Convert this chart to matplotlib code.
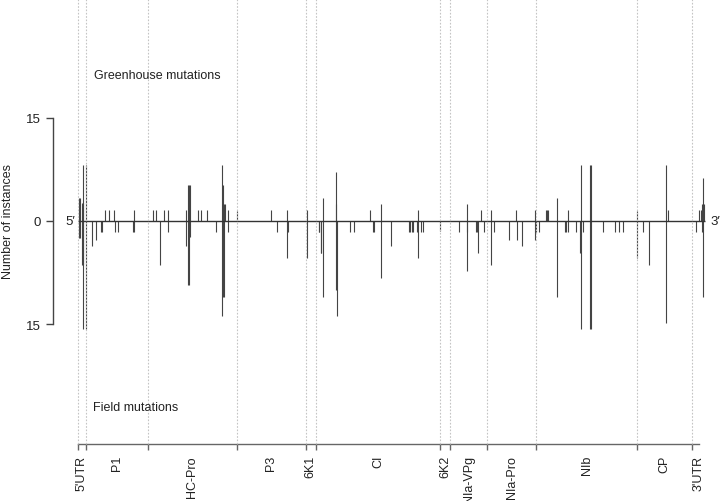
import matplotlib
matplotlib.use('Agg')
import matplotlib.pyplot as plt
import numpy as np

plt.rcParams['font.family'] = ['Liberation Sans', 'DejaVu Sans']

# genome map (nt)
regions = ["5'UTR", 'P1', 'HC-Pro', 'P3', '6K1', 'CI', '6K2',
           'NIa-VPg', 'NIa-Pro', 'NIb', 'CP', "3'UTR"]
boundaries = [0, 125, 1091, 2496, 3568, 3730, 5676, 5833, 6418,
              7186, 8769, 9631, 9830]

# greenhouse mutations: position (nt) and number of instances
gh_pos = [16, 31, 58, 71, 83, 125, 423, 481, 569, 878, 1171, 1228, 1348,
          1406, 1689, 1732, 1748, 1761, 1877, 1933, 2018, 2263, 2278, 2294,
          2305, 2352, 2496, 3026, 3277, 3595, 3837, 4041, 4053, 4579, 4751,
          5331, 6099, 6314, 6471, 6873, 7161, 7333, 7354, 7374, 7515, 7678,
          7882, 8033, 8047, 8769, 9215, 9251, 9733, 9764, 9789, 9805, 9816]
gh_count = [3.4, 3.4, 2.6, 2.6, 8.1, 8.1, 1.6, 1.6, 1.6, 1.6, 1.6, 1.6, 1.6,
            1.6, 1.6, 5.3, 5.3, 5.3, 1.6, 1.6, 1.6, 8.1, 5.3, 2.5,
            2.5, 1.6, 1.5, 1.6, 1.6, 1.6, 3.3, 2.5, 7.1, 1.6, 2.5,
            1.6, 2.5, 1.6, 1.6, 1.6, 1.6, 1.6, 1.6, 1.6, 3.3, 1.6,
            8.1, 8.1, 8.1, 1.4, 8.1, 1.6, 1.6, 1.6, 2.5, 6.2, 2.5]

# field mutations: position (nt) and number of instances
field_pos = [16, 31, 58, 71, 83, 125, 224, 282, 365, 376, 585, 627, 870,
             886, 1286, 1406, 1689, 1732, 1748, 1764, 2169, 2263, 2278, 2294,
             2352, 3116, 3277, 3288, 3595, 3774, 3786, 3805, 3815, 3837, 4041,
             4056, 4265, 4328, 4621, 4641, 4751, 4913, 5190, 5206, 5232, 5257,
             5311, 5331, 5373, 5414, 5676, 5974, 6092, 6107, 6241, 6256, 6272,
             6361, 6471, 6528, 6763, 6884, 6962, 7161, 7174, 7229, 7515, 7631,
             7652, 7678, 7804, 7871, 7882, 7913, 8028, 8044, 8232, 8415, 8487,
             8545, 8769, 8864, 8953, 9215, 9695, 9789, 9805]
field_count = [2.5, 2.5, 6.4, 6.4, 15.7, 15.7, 3.6, 2.7, 1.6, 1.6, 1.6, 1.6, 1.6,
               1.6, 6.4, 1.6, 3.6, 9.3, 9.3, 2.4, 1.6, 13.8, 11.0, 11.0,
               1.6, 1.6, 5.4, 1.6, 5.4, 1.6, 1.6, 4.6, 4.6, 11.0, 10.1,
               13.8, 1.6, 1.6, 1.6, 1.6, 8.3, 3.6, 1.6, 1.6, 1.6, 1.6,
               1.6, 5.4, 1.6, 1.6, 1.5, 1.6, 1.6, 7.3, 1.6, 1.6, 4.6,
               1.6, 6.4, 1.6, 2.7, 2.7, 3.6, 2.7, 1.6, 1.6, 11.0, 1.6,
               1.6, 1.6, 1.6, 4.6, 15.7, 1.6, 15.7, 15.7, 1.6, 1.6, 1.6,
               1.6, 5.4, 1.6, 6.4, 14.9, 1.6, 1.6, 11.0]

genome_end = boundaries[-1]
mids = [(a + b) / 2 for a, b in zip(boundaries[:-1], boundaries[1:])]
axis_y = -32.46

fig = plt.figure(figsize=(7.2, 5.02), dpi=100)
ax = fig.add_axes([0, 0, 1, 1])
ax.set_xlim(-1223, 10067)
ax.set_ylim(-40.76, 32.31)

ax.vlines(gh_pos, 0, gh_count, colors='#444444', lw=0.8, zorder=2)
ax.vlines(field_pos, 0, -np.array(field_count), colors='#444444', lw=0.8, zorder=2)
ax.hlines(0, 0, genome_end, colors='#333333', lw=1.0, zorder=2)
ax.vlines(boundaries[:-1], axis_y, 32.31, colors='#c4c4c4', lw=0.8,
          linestyles=(0, (1.5, 1.5)), zorder=3)

for s in ['top', 'right']:
    ax.spines[s].set_visible(False)
ax.spines['left'].set_position(('data', -392))
ax.spines['left'].set_bounds(-15, 15)
ax.spines['bottom'].set_position(('data', axis_y))
ax.spines['bottom'].set_bounds(0, mids[-1])
ax.spines['left'].set_color('#444444')
ax.spines['bottom'].set_color('#666666')
for s in ['left', 'bottom']:
    ax.spines[s].set_linewidth(1.0)

ax.set_yticks([-15, 0, 15], ['15', '0', '15'])
ax.tick_params(axis='y', length=5, width=1.0, color='#444444', pad=4,
               labelsize=9.5, labelcolor='#222222')

ax.set_xticks(boundaries[:-1], [''] * (len(boundaries) - 1))
ax.set_xticks(mids, regions, minor=True, rotation=90)
ax.tick_params(axis='x', which='major', length=4, width=1.0, color='#666666')
ax.tick_params(axis='x', which='minor', length=0, pad=8, labelsize=9,
               labelcolor='#222222')

ax.text(-1098, 0, 'Number of instances', rotation=90, ha='center', va='center',
        fontsize=9, color='#222222')
ax.text(-50, 0, '5\u2032', ha='right', va='center', fontsize=9.5, color='#222222')
ax.text(9925, 0, '3\u2032', ha='left', va='center', fontsize=9.5, color='#222222')
ax.text(251, 21.25, 'Greenhouse mutations', ha='left', va='center',
        fontsize=9, color='#222222')
ax.text(235, -27.1, 'Field mutations', ha='left', va='center',
        fontsize=9, color='#222222')

fig.savefig('out.png', dpi=100)
